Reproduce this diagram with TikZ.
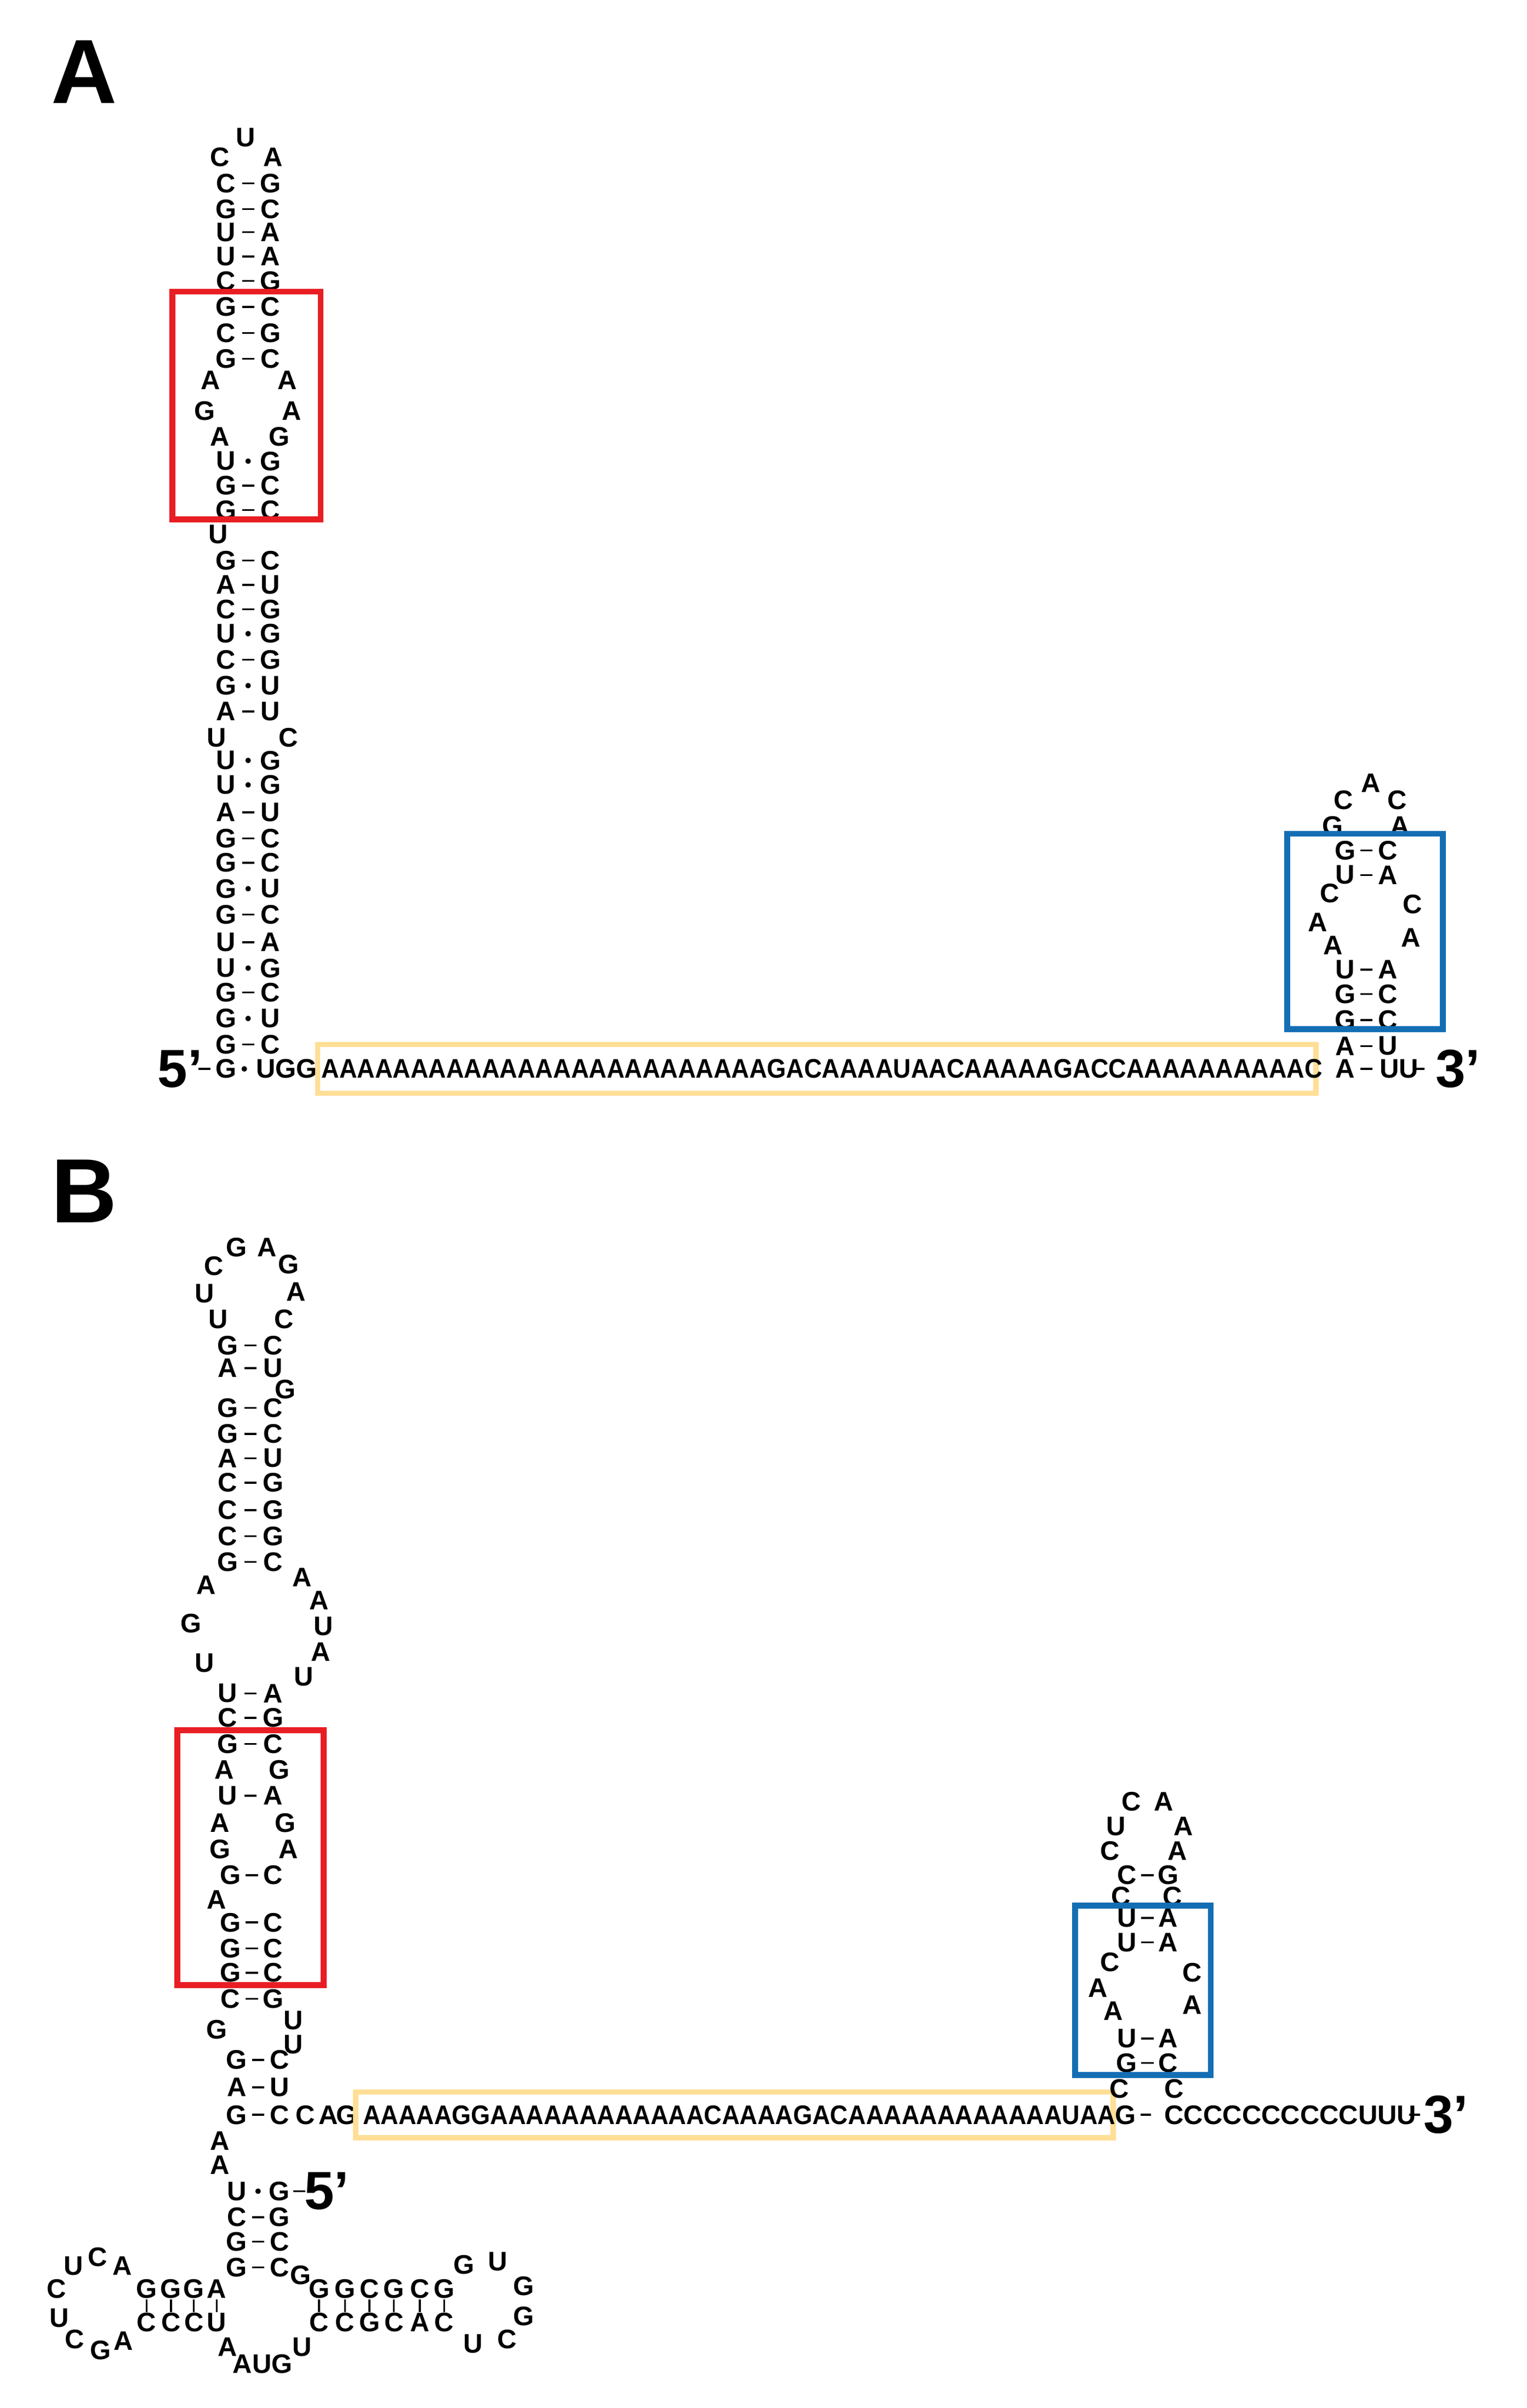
\documentclass[tikz,border=0pt]{standalone}
\usepackage{fontspec}
\setmainfont{Liberation Sans}
\definecolor{boxred}{RGB}{232,30,36}
\definecolor{boxblue}{RGB}{20,110,180}
\definecolor{boxyellow}{RGB}{255,222,150}
\tikzset{
  nt/.style={inner sep=0pt, font=\fontsize{5}{6}\selectfont\bfseries},
  big/.style={inner sep=0pt, font=\fontsize{10}{12}\selectfont\bfseries},
  panel/.style={inner sep=0pt, font=\fontsize{17}{20}\selectfont\bfseries},
  bond/.style={line width=0.35pt},
  hbox/.style={line width=1.1pt},
}
% base pair: y, left, type (d = dash, w = dot), right
\newcommand\bp[4]{%
  \node[nt] at (\xl,#1) {#2};
  \node[nt] at (\xr,#1) {#4};
  \if d#3 \draw[bond] ({(\xl+\xr)/2-4},#1) -- ({(\xl+\xr)/2+4},#1);
  \else \fill ({(\xl+\xr)/2},#1) circle (1.8); \fi}
\newcommand\nt[3]{\node[nt] at (#1,#2) {#3};}
\begin{document}
\begin{tikzpicture}[x=0.1mm, y=-0.1mm]
\useasboundingbox (0,0) rectangle (1000,1577);

%% ---------------- panel A ----------------
\node[panel] (la) at (55,47) {A};
\def\xl{148}\def\xr{177}
\nt{161}{90}{U}\nt{144}{103}{C}\nt{179}{103}{A}
\foreach \y/\a/\t/\b in {120/C/d/G,137/G/d/C,152/U/d/A,168/U/d/A,184/C/d/G,
  201/G/d/C,218/C/d/G,235/G/d/C,302/U/w/G,318/G/d/C,334/G/d/C,367/G/d/C,
  383/A/d/U,399/C/d/G,415/U/w/G,432/C/d/G,449/G/w/U,466/A/d/U,498/U/w/G,
  514/U/w/G,532/A/d/U,549/G/d/C,565/G/d/C,582/G/w/U,599/G/d/C,617/U/d/A,
  634/U/w/G,650/G/d/C,667/G/w/U,684/G/d/C}{\bp{\y}{\a}{\t}{\b}}
\nt{138}{249}{A}\nt{188}{249}{A}
\nt{134}{269}{G}\nt{191}{269}{A}
\nt{144}{286}{A}\nt{183}{286}{G}
\nt{143}{350}{U}
\nt{142}{483}{U}\nt{189}{483}{C}
% bottom strand
\node[big] (a5) at (118,700) {5’};
\draw[bond] (130,700) -- (138,700);
\nt{148}{700}{G}
\fill (160,700) circle (1.8);
\node[nt, anchor=west] at (167,700) {UGG};
\draw[boxyellow, line width=1pt] (208,684) rectangle (862,716);
\node[nt, anchor=west, xscale=0.92] at (210,700)
  {AAAAAAAAAAAAAAAAAAAAAAAAAGACAAAAUAACAAAAAGACCAAAAAAAAAAC};
% right hairpin
\def\xl{881}\def\xr{909}
\foreach \y/\a/\t/\b in {557/G/d/C,573/U/d/A,635/U/d/A,651/G/d/C,668/G/d/C,
  685/A/d/U}{\bp{\y}{\a}{\t}{\b}}
\nt{898}{513}{A}\nt{880}{524}{C}\nt{915}{524}{C}
\nt{873}{541}{G}\nt{917}{541}{A}
\nt{871}{585}{C}\nt{925}{592}{C}\nt{863}{604}{A}\nt{924}{614}{A}\nt{873}{619}{A}
\nt{881}{700}{A}
\draw[bond] (891,700) -- (899,700);
\node[nt, anchor=west] at (903,700) {UU};
\draw[bond] (926,700) -- (933,700);
\node[big] (a3) at (955,700) {3’};
% boxes
\draw[boxred, hbox] (113,191) rectangle (210,340);
\draw[boxblue, hbox] (843,546) rectangle (945,674);

%% ---------------- panel B ----------------
\node[panel] (lb) at (55,780) {B};
\nt{140}{829}{C}\nt{155}{817}{G}\nt{175}{817}{A}\nt{189}{828}{G}
\nt{134}{847}{U}\nt{194}{846}{A}\nt{143}{864}{U}\nt{186}{864}{C}
\def\xl{149}\def\xr{179}
\foreach \y/\a/\t/\b in {881/G/d/C,896/A/d/U,922/G/d/C,939/G/d/C,955/A/d/U,
  971/C/d/G,989/C/d/G,1006/C/d/G,1023/G/d/C,1109/U/d/A,1125/C/d/G,
  1142/G/d/C,1176/U/d/A}{\bp{\y}{\a}{\t}{\b}}
\nt{187}{910}{G}
\nt{135}{1038}{A}\nt{125}{1063}{G}\nt{134}{1089}{U}
\nt{198}{1033}{A}\nt{209}{1048}{A}\nt{212}{1065}{U}\nt{210}{1082}{A}\nt{199}{1098}{U}
\nt{147}{1159}{A}\nt{183}{1159}{G}
\nt{144}{1194}{A}\nt{187}{1194}{G}
\nt{144}{1211}{G}\nt{189}{1211}{A}
\def\xl{151}\def\xr{179}
\foreach \y/\a/\t/\b in {1228/G/d/C,1259/G/d/C,1276/G/d/C,1292/G/d/C,
  1309/C/d/G}{\bp{\y}{\a}{\t}{\b}}
\nt{142}{1244}{A}
\nt{142}{1329}{G}\nt{192}{1323}{U}\nt{192}{1339}{U}
\def\xl{155}\def\xr{183}
\foreach \y/\a/\t/\b in {1349/G/d/C,1367/A/d/U,1385/G/d/C,1435/U/w/G,
  1452/C/d/G,1468/G/d/C,1485/G/d/C}{\bp{\y}{\a}{\t}{\b}}
\nt{200}{1385}{C}\nt{215}{1385}{A}\nt{227}{1385}{G}
\draw[boxyellow, line width=1pt] (233,1370) rectangle (729,1400);
\node[nt, anchor=west, xscale=0.92] at (237,1385)
  {AAAAAGGAAAAAAAAAAAACAAAAGACAAAAAAAAAAAAUAA};
\nt{144}{1402}{A}\nt{144}{1418}{A}
\draw[bond] (192,1435) -- (200,1435);
\node[big] (b5) at (214,1435) {5’};
\nt{197}{1490}{G}
% multiloop helices
\foreach \x/\a/\b in {96/G/C,112/G/C,127/G/C,142/A/U}{
  \nt{\x}{1499}{\a}\nt{\x}{1521}{\b}\draw[bond] (\x,1506) -- (\x,1514);}
\foreach \x/\a/\b in {209/G/C,226/G/C,242/C/G,258/G/C,275/C/A,291/G/C}{
  \nt{\x}{1499}{\a}\nt{\x}{1521}{\b}\draw[bond] (\x,1506) -- (\x,1514);}
\nt{48}{1484}{U}\nt{64}{1478}{C}\nt{80}{1484}{A}
\nt{37}{1499}{C}\nt{39}{1518}{U}\nt{49}{1532}{C}\nt{66}{1539}{G}\nt{81}{1533}{A}
\nt{149}{1537}{A}\node[nt] at (172,1548) {AUG};\nt{198}{1537}{U}
\nt{304}{1483}{G}\nt{326}{1481}{U}\nt{343}{1497}{G}\nt{343}{1517}{G}
\nt{310}{1535}{U}\nt{332}{1532}{C}
% right hairpin
\def\xl{738}\def\xr{765}
\foreach \y/\a/\t/\b in {1228/C/d/G,1256/U/d/A,1272/U/d/A,1335/U/d/A,
  1351/G/d/C}{\bp{\y}{\a}{\t}{\b}}
\nt{741}{1180}{C}\nt{762}{1180}{A}
\nt{731}{1196}{U}\nt{775}{1196}{A}
\nt{727}{1212}{C}\nt{771}{1212}{A}
\nt{734}{1242}{C}\nt{768}{1242}{C}
\nt{727}{1285}{C}\nt{781}{1292}{C}\nt{719}{1302}{A}\nt{781}{1313}{A}\nt{729}{1317}{A}
\nt{733}{1368}{C}\nt{769}{1368}{C}
\nt{737}{1385}{G}
\draw[bond] (747,1385) -- (754,1385);
\node[nt, anchor=west] at (762,1385) {CCCCCCCCCCUUU};
\draw[bond] (923,1385) -- (930,1385);
\node[big] (b3) at (947,1385) {3’};
% boxes
\draw[boxred, hbox] (116,1133) rectangle (212,1300);
\draw[boxblue, hbox] (704,1248) rectangle (793,1359);
\end{tikzpicture}
\end{document}
